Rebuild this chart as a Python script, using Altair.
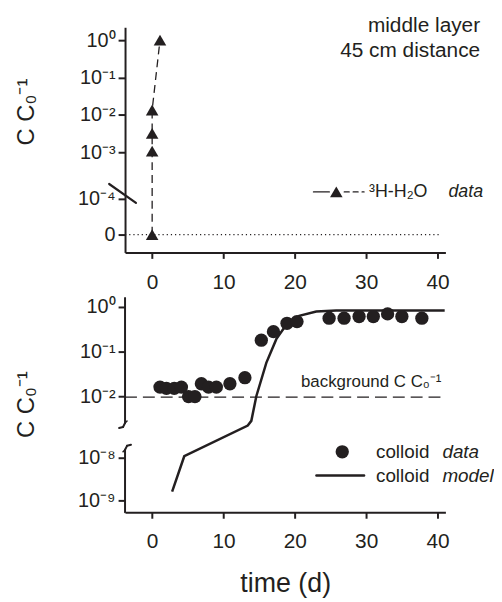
import altair as alt
import pandas as pd

# ---------------- data ----------------
# top panel: 3H-H2O tracer data (time in d, C/C0)
h2o_t = [0.0, 0.0, 0.0, 0.0, 1.1]
h2o_c = [0.0, 1.07e-3, 3.2e-3, 1.35e-2, 1.0]

# bottom panel: colloid data
col_t = [1.1, 2.0, 3.1, 4.1, 5.1, 6.0, 6.9, 7.9, 9.0, 10.9, 13.0,
         15.3, 17.0, 18.9, 20.3, 24.8, 26.9, 29.0, 31.0, 33.0, 35.0, 37.8]
col_c = [0.016, 0.015, 0.015, 0.016, 0.0098, 0.0098, 0.019, 0.016, 0.016, 0.019, 0.026,
         0.18, 0.28, 0.43, 0.47, 0.56, 0.56, 0.61, 0.61, 0.70, 0.61, 0.56]

# bottom panel: colloid model
mod_t = [2.8, 4.5, 13.4, 13.9, 14.6, 16.0, 17.4, 18.8, 20.6, 23.0, 25.8, 41.0]
mod_c = [1.6e-9, 1.8e-8, 2.2e-3, 2.8e-3, 1.0e-2, 5.6e-2, 0.19, 0.40, 0.63, 0.79, 0.83, 0.83]

background = [0.0095]
zero_level = [0.0]

x_ticks = [0, 10, 20, 30, 40]
top_ticks = [-5, -4, -3, -2, -1, 0]   # -5 is the "0" level
bot_ticks = [-9, -8, -2, -1, 0]

# ---------------- styling ----------------
FONT = "Liberation Sans"
INK = "#231f20"
W = 323
H_TOP = 227
H_BOT = 216

df_h2o = pd.DataFrame({"t": h2o_t, "c": h2o_c, "i": list(range(len(h2o_t)))})
df_col = pd.DataFrame({"t": col_t, "c": col_c})
df_mod = pd.DataFrame({"t": mod_t, "c": mod_c, "i": list(range(len(mod_t)))})
df_bg = pd.DataFrame({"c": background})
df_zero = pd.DataFrame({"c": zero_level})
dummy = pd.DataFrame({"k": [0]})

log_expr = "datum.c > 0 ? log(datum.c) / LN10 : -5"
sup_expr = ("datum.value == -5 ? '0' : '10' + (datum.value < 0 ? '\u207b' : '') + "
            "['\u2070','\u00b9','\u00b2','\u00b3','\u2074','\u2075','\u2076','\u2077','\u2078','\u2079'][abs(datum.value)]")

x_scale = alt.Scale(domain=[-3.8, 41.1], zero=False, nice=False)


def x_axis(title=None, pad=13):
    kw = dict(values=x_ticks, tickSize=6, tickWidth=2, domainWidth=2,
              labelFontSize=21, labelPadding=pad, grid=False)
    if title:
        return alt.Axis(title=title, titleFontSize=27, titleFontWeight="normal", titlePadding=19, **kw)
    return alt.Axis(title=None, **kw)


top_y_scale = alt.Scale(type="linear", domain=[-5.5, -5, -4, -3, 0.345],
                        range=[H_TOP, 209, 173, 126, 0], zero=False, nice=False)
bot_y_scale = alt.Scale(type="linear", domain=[-9.28, -8, -2.69, 0.2],
                        range=[H_BOT, 161, 130, 0], zero=False, nice=False)


def y_axis(values, ty, domain=True):
    return alt.Axis(values=values, labelExpr=sup_expr, title="C C\u2080\u207b\u00b9",
                    titleFontSize=24, titleFontWeight="normal", titleAngle=270,
                    titleX=-99, titleY=ty, titleAlign="center", titleBaseline="middle",
                    tickSize=7, tickWidth=2, domain=domain, domainWidth=2,
                    labelFontSize=20, labelPadding=3, grid=False)


TX = alt.X("t:Q", scale=x_scale, axis=x_axis(pad=13))
TY = alt.Y("lc:Q", scale=top_y_scale, axis=y_axis(top_ticks, 85))


def seg(x1, y1, x2, y2, width=2.0, dash=None):
    kw = dict(strokeWidth=width, color=INK, strokeCap="round")
    if dash:
        kw["strokeDash"] = dash
    return alt.Chart(dummy).mark_rule(**kw).encode(
        x=alt.value(x1), y=alt.value(y1), x2=alt.value(x2), y2=alt.value(y2))


def label(x, y, text, size, align="left", italic=False):
    kw = dict(align=align, baseline="middle", fontSize=size, font=FONT, color=INK)
    if italic:
        kw["fontStyle"] = "italic"
    return alt.Chart(dummy).mark_text(**kw).encode(
        x=alt.value(x), y=alt.value(y), text=alt.value(text))


# ---------------- top panel ----------------
h2o_line = alt.Chart(df_h2o).transform_calculate(lc=log_expr).mark_line(
    strokeDash=[8, 5], strokeWidth=1.3, color=INK
).encode(x=TX, y=TY, order="i:Q")

h2o_pts = alt.Chart(df_h2o).transform_calculate(lc=log_expr).mark_point(
    shape="triangle-up", filled=True, size=160, color=INK, opacity=1
).encode(x=TX, y=TY)

zero_line = alt.Chart(df_zero).transform_calculate(lc=log_expr).mark_rule(
    strokeDash=[1.2, 3], strokeWidth=1.2, color=INK
).encode(y=TY, x=alt.value(0), x2=alt.value(319))

leg1 = seg(190, 166, 206, 166, 1.3)
leg2 = alt.Chart(dummy).mark_point(shape="triangle-up", filled=True, size=160, color=INK, opacity=1).encode(
    x=alt.value(213), y=alt.value(166))
leg3 = seg(221, 166, 241, 166, 1.3, dash=[5, 4])
leg4 = label(246, 166, "\u00b3H-H\u2082O", 18)
leg5 = label(326, 166, "data", 18, italic=True)
lbl1 = label(358, -1, "middle layer", 21, align="right")
lbl2 = label(358, 24, "45 cm distance", 21, align="right")
slash = seg(-16, 158, 11, 177, 2.2)

top = alt.layer(h2o_line, zero_line, h2o_pts, leg1, leg2, leg3, leg4, leg5, lbl1, lbl2, slash).properties(
    width=W, height=H_TOP)

# ---------------- bottom panel ----------------
BX = alt.X("t:Q", scale=x_scale, axis=x_axis("time (d)"))
BY = alt.Y("lc:Q", scale=bot_y_scale, axis=y_axis(bot_ticks, 107, domain=False))

bg_line = alt.Chart(df_bg).transform_calculate(lc=log_expr).mark_rule(
    strokeDash=[12, 6], strokeWidth=1.3, color=INK
).encode(y=BY, x=alt.value(0), x2=alt.value(W))

mod_line = alt.Chart(df_mod).transform_calculate(lc=log_expr).mark_line(
    strokeWidth=2.5, color=INK
).encode(x=BX, y=BY, order="i:Q")

col_pts = alt.Chart(df_col).transform_calculate(lc=log_expr).mark_circle(
    size=180, color=INK, opacity=1
).encode(x=BX, y=BY)

bg_txt = label(319, 85, "background C C\u2080\u207b\u00b9", 17, align="right")

lg_c = alt.Chart(dummy).mark_circle(size=180, color=INK, opacity=1).encode(x=alt.value(219), y=alt.value(155))
lg_ct1 = label(253, 155, "colloid", 19)
lg_ct2 = label(320, 155, "data", 19, italic=True)
lg_m = seg(193, 179, 241, 179, 2.5)
lg_mt1 = label(253, 179, "colloid", 19)
lg_mt2 = label(320, 179, "model", 19, italic=True)

# broken y axis: two segments with small hooks at the break
ax_up = seg(0, 0, 0, 126, 2.0)
ax_lo = seg(0, 153, 0, H_BOT, 2.0)
hk1 = seg(0, 126, -2, 130, 2.0)
hk2 = seg(-2, 130, -6, 131, 2.0)
hk3 = seg(0, 126, 2, 124, 1.6)
hk4 = seg(0, 153, 2, 149, 2.0)
hk5 = seg(2, 149, 6, 148, 2.0)
hk6 = seg(0, 153, -2, 155, 1.6)

bottom = alt.layer(mod_line, bg_line, col_pts, bg_txt, lg_c, lg_ct1, lg_ct2, lg_m, lg_mt1, lg_mt2,
                   ax_up, ax_lo, hk1, hk2, hk3, hk4, hk5, hk6).properties(width=W, height=H_BOT)

chart = alt.vconcat(top, bottom, spacing=46, bounds="flush").properties(
    padding={"left": 7, "top": 5, "right": 0, "bottom": 0}
).configure_view(stroke=None).configure_axis(
    labelFont=FONT, titleFont=FONT, domainColor=INK, tickColor=INK,
    labelColor=INK, titleColor=INK
)

chart.save("out.html", embed_options={"renderer": "svg", "actions": False})
